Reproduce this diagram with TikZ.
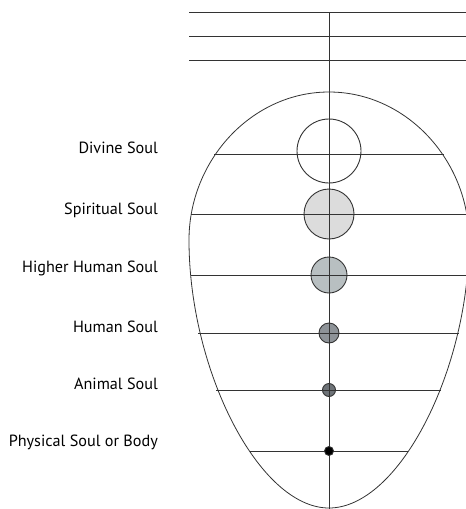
\documentclass[tikz,border=0pt]{standalone}
\usepackage{fontspec}
\setmainfont{PT Sans}
\definecolor{spir}{HTML}{DCDCDC}
\definecolor{hhum}{HTML}{B8BFC1}
\definecolor{hum}{HTML}{8E9398}
\definecolor{anim}{HTML}{6E7378}
\definecolor{ln}{HTML}{333333}
\begin{document}
\begin{tikzpicture}[x=1pt,y=-1pt,
  ln/.style={draw=ln,line width=0.9pt},
  soul/.style={circle,draw=ln,line width=0.9pt,inner sep=0pt},
  lbl/.style={anchor=east,font=\fontsize{16.2}{18}\selectfont,inner sep=0pt}]
\useasboundingbox (0,0) rectangle (466,509);
% circles
\node[soul,fill=white,minimum size=64pt] (c1) at (329,151) {};
\node[soul,fill=spir,minimum size=50pt] (c2) at (329,214) {};
\node[soul,fill=hhum,minimum size=36pt] (c3) at (329,275) {};
\node[soul,fill=hum,minimum size=20pt] (c4) at (329,333) {};
\node[soul,fill=anim,minimum size=13pt] (c5) at (329,390) {};
% top lines
\draw[ln] (189,12) -- (466,12);
\draw[ln] (189,36) -- (466,36);
\draw[ln] (189,60) -- (466,60);
% egg
\draw[ln,line width=0.8pt] (329,92)
  .. controls (406,92) and (469,160) .. (469,240)
  .. controls (469,370) and (399,508) .. (329,508)
  .. controls (259,508) and (189,370) .. (189,240)
  .. controls (189,160) and (252,92) .. (329,92) -- cycle;
% level lines
\draw[ln] (214,154) -- (444,154);
\draw[ln] (191,214) -- (467,214);
\draw[ln] (191,275) -- (467,275);
\draw[ln] (198,333) -- (459,333);
\draw[ln] (216,390) -- (441,390);
\draw[ln] (250,451) -- (408,451);
% axis
\coordinate (top) at (329,12);
\coordinate (bot) at (329,509);
\draw[ln] (top) -- (bot);
\node[soul,fill=black,minimum size=9pt] (c6) at (329,451) {};
% labels
\node[lbl] (l1) at (158,148) {Divine Soul};
\node[lbl] (l2) at (158,210) {Spiritual Soul};
\node[lbl] (l3) at (158,268) {Higher Human Soul};
\node[lbl] (l4) at (158,327) {Human Soul};
\node[lbl] (l5) at (158,384) {Animal Soul};
\node[lbl] (l6) at (158,442) {Physical Soul or Body};
\end{tikzpicture}
\end{document}
